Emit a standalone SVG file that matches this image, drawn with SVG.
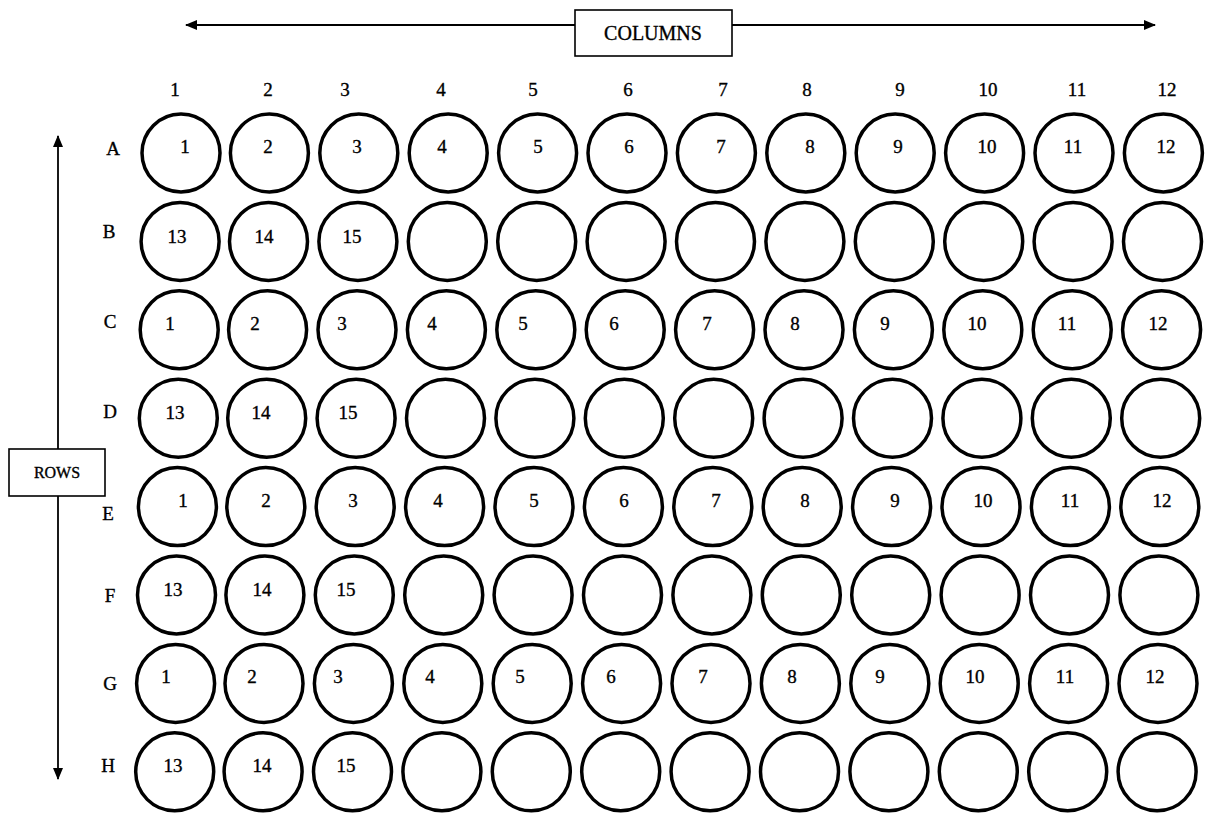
<svg xmlns="http://www.w3.org/2000/svg" width="1208" height="813" viewBox="0 0 1208 813">
<style>
.well{fill:none;stroke:#000;stroke-width:3.5}
.t{font-family:"Liberation Serif","Times New Roman",serif;font-size:19px;fill:#000;stroke:#000;stroke-width:0.35;text-anchor:middle}
.box{fill:#fff;stroke:#000;stroke-width:1.6}
.ax{stroke:#000;stroke-width:1.8;fill:none}
</style>
<defs>
<marker id="ah" viewBox="0 0 12 10" refX="11" refY="5" markerWidth="12" markerHeight="10" markerUnits="userSpaceOnUse" orient="auto">
<path d="M0,0 L12,5 L0,10 Z" fill="#000"/>
</marker>
</defs>
<rect width="1208" height="813" fill="#fff"/>
<g id="connectors">
<line class="ax" x1="575" y1="25" x2="186" y2="25" marker-end="url(#ah)"/>
<line class="ax" x1="732" y1="25" x2="1155" y2="25" marker-end="url(#ah)"/>
<line class="ax" x1="58" y1="449" x2="58" y2="136" marker-end="url(#ah)"/>
<line class="ax" x1="58" y1="496" x2="58" y2="779" marker-end="url(#ah)"/>
</g>
<g id="columns-label"><rect class="box" x="575" y="10" width="157" height="46"/><text class="t" x="653" y="40" style="font-size:20px">COLUMNS</text></g>
<g id="rows-label"><rect class="box" x="9" y="449" width="96" height="47"/><text class="t" x="57" y="478" style="font-size:16px">ROWS</text></g>
<g id="col-headers">
<text class="t" x="175" y="96">1</text><text class="t" x="268" y="96">2</text><text class="t" x="345" y="96">3</text><text class="t" x="441" y="96">4</text><text class="t" x="533" y="96">5</text><text class="t" x="628" y="96">6</text><text class="t" x="723" y="96">7</text><text class="t" x="807" y="96">8</text><text class="t" x="900" y="96">9</text><text class="t" x="988" y="96">10</text><text class="t" x="1077" y="96">11</text><text class="t" x="1167" y="96">12</text>
</g>
<g id="row-headers">
<text class="t" x="113" y="155">A</text><text class="t" x="109" y="238">B</text><text class="t" x="110" y="328">C</text><text class="t" x="110" y="418">D</text><text class="t" x="108" y="520">E</text><text class="t" x="110" y="602">F</text><text class="t" x="110" y="690">G</text><text class="t" x="108" y="772">H</text>
</g>
<g id="row-A">
<circle class="well" cx="181" cy="153" r="39"/><circle class="well" cx="269.4" cy="153" r="39"/><circle class="well" cx="358.8" cy="153" r="39"/><circle class="well" cx="448.2" cy="153" r="39"/><circle class="well" cx="537.6" cy="153" r="39"/><circle class="well" cx="627" cy="153" r="39"/><circle class="well" cx="716.4" cy="153" r="39"/><circle class="well" cx="805.8" cy="153" r="39"/><circle class="well" cx="895.2" cy="153" r="39"/><circle class="well" cx="984.6" cy="153" r="39"/><circle class="well" cx="1074" cy="153" r="39"/><circle class="well" cx="1163.4" cy="153" r="39"/>
<text class="t" x="185" y="153">1</text><text class="t" x="268" y="153">2</text><text class="t" x="357" y="153">3</text><text class="t" x="442" y="153">4</text><text class="t" x="538" y="153">5</text><text class="t" x="629" y="153">6</text><text class="t" x="721" y="153">7</text><text class="t" x="810" y="153">8</text><text class="t" x="898" y="153">9</text><text class="t" x="987" y="153">10</text><text class="t" x="1073" y="153">11</text><text class="t" x="1166" y="153">12</text>
</g>
<g id="row-B">
<circle class="well" cx="180.1" cy="241.4" r="39"/><circle class="well" cx="268.5" cy="241.4" r="39"/><circle class="well" cx="357.9" cy="241.4" r="39"/><circle class="well" cx="447.3" cy="241.4" r="39"/><circle class="well" cx="536.7" cy="241.4" r="39"/><circle class="well" cx="626.1" cy="241.4" r="39"/><circle class="well" cx="715.5" cy="241.4" r="39"/><circle class="well" cx="804.9" cy="241.4" r="39"/><circle class="well" cx="894.3" cy="241.4" r="39"/><circle class="well" cx="983.7" cy="241.4" r="39"/><circle class="well" cx="1073.1" cy="241.4" r="39"/><circle class="well" cx="1162.5" cy="241.4" r="39"/>
<text class="t" x="177" y="243">13</text><text class="t" x="264" y="243">14</text><text class="t" x="352" y="243">15</text>
</g>
<g id="row-C">
<circle class="well" cx="179.2" cy="329.8" r="39"/><circle class="well" cx="267.6" cy="329.8" r="39"/><circle class="well" cx="357" cy="329.8" r="39"/><circle class="well" cx="446.4" cy="329.8" r="39"/><circle class="well" cx="535.8" cy="329.8" r="39"/><circle class="well" cx="625.2" cy="329.8" r="39"/><circle class="well" cx="714.6" cy="329.8" r="39"/><circle class="well" cx="804" cy="329.8" r="39"/><circle class="well" cx="893.4" cy="329.8" r="39"/><circle class="well" cx="982.8" cy="329.8" r="39"/><circle class="well" cx="1072.2" cy="329.8" r="39"/><circle class="well" cx="1161.6" cy="329.8" r="39"/>
<text class="t" x="170" y="330">1</text><text class="t" x="255" y="330">2</text><text class="t" x="342" y="330">3</text><text class="t" x="432" y="330">4</text><text class="t" x="523" y="330">5</text><text class="t" x="614" y="330">6</text><text class="t" x="707" y="330">7</text><text class="t" x="795" y="330">8</text><text class="t" x="885" y="330">9</text><text class="t" x="977" y="330">10</text><text class="t" x="1067" y="330">11</text><text class="t" x="1158" y="330">12</text>
</g>
<g id="row-D">
<circle class="well" cx="178.3" cy="418.2" r="39"/><circle class="well" cx="266.7" cy="418.2" r="39"/><circle class="well" cx="356.1" cy="418.2" r="39"/><circle class="well" cx="445.5" cy="418.2" r="39"/><circle class="well" cx="534.9" cy="418.2" r="39"/><circle class="well" cx="624.3" cy="418.2" r="39"/><circle class="well" cx="713.7" cy="418.2" r="39"/><circle class="well" cx="803.1" cy="418.2" r="39"/><circle class="well" cx="892.5" cy="418.2" r="39"/><circle class="well" cx="981.9" cy="418.2" r="39"/><circle class="well" cx="1071.3" cy="418.2" r="39"/><circle class="well" cx="1160.7" cy="418.2" r="39"/>
<text class="t" x="175" y="419">13</text><text class="t" x="261" y="419">14</text><text class="t" x="348" y="419">15</text>
</g>
<g id="row-E">
<circle class="well" cx="177.4" cy="506.6" r="39"/><circle class="well" cx="265.8" cy="506.6" r="39"/><circle class="well" cx="355.2" cy="506.6" r="39"/><circle class="well" cx="444.6" cy="506.6" r="39"/><circle class="well" cx="534" cy="506.6" r="39"/><circle class="well" cx="623.4" cy="506.6" r="39"/><circle class="well" cx="712.8" cy="506.6" r="39"/><circle class="well" cx="802.2" cy="506.6" r="39"/><circle class="well" cx="891.6" cy="506.6" r="39"/><circle class="well" cx="981" cy="506.6" r="39"/><circle class="well" cx="1070.4" cy="506.6" r="39"/><circle class="well" cx="1159.8" cy="506.6" r="39"/>
<text class="t" x="183" y="507">1</text><text class="t" x="266" y="507">2</text><text class="t" x="353" y="507">3</text><text class="t" x="438" y="507">4</text><text class="t" x="534" y="507">5</text><text class="t" x="624" y="507">6</text><text class="t" x="716" y="507">7</text><text class="t" x="805" y="507">8</text><text class="t" x="895" y="507">9</text><text class="t" x="983" y="507">10</text><text class="t" x="1070" y="507">11</text><text class="t" x="1162" y="507">12</text>
</g>
<g id="row-F">
<circle class="well" cx="176.5" cy="595" r="39"/><circle class="well" cx="264.9" cy="595" r="39"/><circle class="well" cx="354.3" cy="595" r="39"/><circle class="well" cx="443.7" cy="595" r="39"/><circle class="well" cx="533.1" cy="595" r="39"/><circle class="well" cx="622.5" cy="595" r="39"/><circle class="well" cx="711.9" cy="595" r="39"/><circle class="well" cx="801.3" cy="595" r="39"/><circle class="well" cx="890.7" cy="595" r="39"/><circle class="well" cx="980.1" cy="595" r="39"/><circle class="well" cx="1069.5" cy="595" r="39"/><circle class="well" cx="1158.9" cy="595" r="39"/>
<text class="t" x="173" y="596">13</text><text class="t" x="262" y="596">14</text><text class="t" x="346" y="596">15</text>
</g>
<g id="row-G">
<circle class="well" cx="175.6" cy="683.4" r="39"/><circle class="well" cx="264" cy="683.4" r="39"/><circle class="well" cx="353.4" cy="683.4" r="39"/><circle class="well" cx="442.8" cy="683.4" r="39"/><circle class="well" cx="532.2" cy="683.4" r="39"/><circle class="well" cx="621.6" cy="683.4" r="39"/><circle class="well" cx="711" cy="683.4" r="39"/><circle class="well" cx="800.4" cy="683.4" r="39"/><circle class="well" cx="889.8" cy="683.4" r="39"/><circle class="well" cx="979.2" cy="683.4" r="39"/><circle class="well" cx="1068.6" cy="683.4" r="39"/><circle class="well" cx="1158" cy="683.4" r="39"/>
<text class="t" x="166" y="683">1</text><text class="t" x="252" y="683">2</text><text class="t" x="338" y="683">3</text><text class="t" x="430" y="683">4</text><text class="t" x="520" y="683">5</text><text class="t" x="611" y="683">6</text><text class="t" x="703" y="683">7</text><text class="t" x="792" y="683">8</text><text class="t" x="880" y="683">9</text><text class="t" x="975" y="683">10</text><text class="t" x="1065" y="683">11</text><text class="t" x="1155" y="683">12</text>
</g>
<g id="row-H">
<circle class="well" cx="174.7" cy="771.8" r="39"/><circle class="well" cx="263.1" cy="771.8" r="39"/><circle class="well" cx="352.5" cy="771.8" r="39"/><circle class="well" cx="441.9" cy="771.8" r="39"/><circle class="well" cx="531.3" cy="771.8" r="39"/><circle class="well" cx="620.7" cy="771.8" r="39"/><circle class="well" cx="710.1" cy="771.8" r="39"/><circle class="well" cx="799.5" cy="771.8" r="39"/><circle class="well" cx="888.9" cy="771.8" r="39"/><circle class="well" cx="978.3" cy="771.8" r="39"/><circle class="well" cx="1067.7" cy="771.8" r="39"/><circle class="well" cx="1157.1" cy="771.8" r="39"/>
<text class="t" x="173" y="772">13</text><text class="t" x="262" y="772">14</text><text class="t" x="346" y="772">15</text>
</g>
</svg>
